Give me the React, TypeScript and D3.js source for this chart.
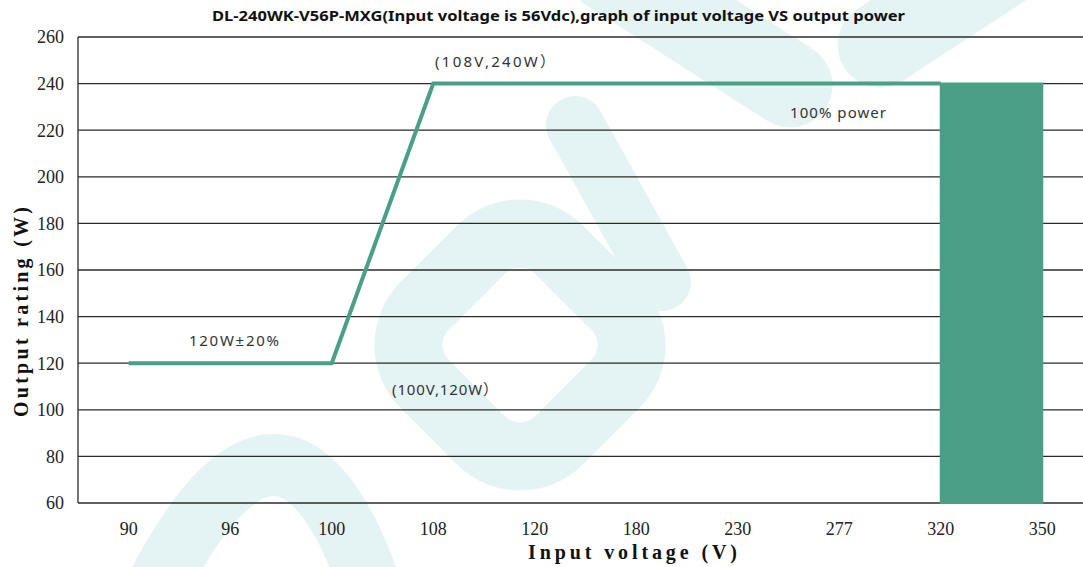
import React from "react";
import * as d3 from "d3";

const categories = ["90", "96", "100", "108", "120", "180", "230", "277", "320", "350"];
const lineValues = [120, 120, 120, 240, 240, 240, 240, 240, 240];
const lineCats = ["90", "96", "100", "108", "120", "180", "230", "277", "320"];
const areaCats = ["320", "350"];
const areaValues = [240, 240];
const yTicks = [60, 80, 100, 120, 140, 160, 180, 200, 220, 240, 260];

const W = 1083;
const H = 567;
const left = 78;
const top = 37;
const bottom = 503;
const GREEN = "#4a9f87";
const WM = "#e4f3f3";

export default function App() {
  const x = d3.scaleBand<string>().domain(categories).range([left, left + 1015]);
  const cx = (c: string) => (x(c) as number) + x.bandwidth() / 2;
  const y = d3.scaleLinear().domain([60, 260]).range([bottom, top]);

  const line = d3
    .line<number>()
    .x((_, i) => cx(lineCats[i]))
    .y((d) => y(d));
  const area = d3
    .area<number>()
    .x((_, i) => cx(areaCats[i]))
    .y0(y(60))
    .y1((d) => y(d));

  const serif = "'Liberation Serif', 'DejaVu Serif', serif";
  const sans = "'Noto Sans', 'Noto Sans CJK SC', sans-serif";

  return (
    <svg
      width={W}
      height={H}
      style={{ position: "absolute", left: 0, top: 0, background: "#fff" }}
    >
      {/* watermark */}
      <g fill="none" stroke={WM} strokeLinecap="round" strokeLinejoin="round">
        <path d="M150,600 Q285,330 375,600" strokeWidth={62} />
        <rect
          x={-95}
          y={-95}
          width={190}
          height={190}
          rx={55}
          strokeWidth={68}
          transform="translate(520,345) rotate(45)"
        />
        <path d="M575,125 L662,282" strokeWidth={58} />
        <path d="M610,-30 L790,85" strokeWidth={85} />
        <path d="M880,45 L1010,-40" strokeWidth={85} />
      </g>

      {/* gridlines */}
      <g>
        {yTicks.map((t) => (
          <line
            key={t}
            x1={left}
            x2={W}
            y1={y(t)}
            y2={y(t)}
            stroke="#2b2b2b"
            strokeWidth={1.3}
          />
        ))}
        <line x1={left} x2={left} y1={top} y2={bottom} stroke="#2b2b2b" strokeWidth={1.3} />
      </g>

      {/* area block */}
      <path d={area(areaValues) || ""} fill={GREEN} stroke={GREEN} strokeWidth={2} />
      {/* line */}
      <path
        d={line(lineValues) || ""}
        fill="none"
        stroke={GREEN}
        strokeWidth={4}
        strokeLinejoin="miter"
      />

      {/* y tick labels */}
      <g fontFamily={serif} fontSize={18} fill="#222">
        {yTicks.map((t) => (
          <text key={t} x={64} y={y(t)} dy="0.35em" textAnchor="end">
            {t}
          </text>
        ))}
      </g>
      {/* x tick labels */}
      <g fontFamily={serif} fontSize={18} fill="#222">
        {categories.map((c) => (
          <text key={c} x={cx(c)} y={535} textAnchor="middle">
            {c}
          </text>
        ))}
      </g>

      {/* axis titles */}
      <text
        x={528}
        y={559}
        fontFamily={serif}
        fontWeight="bold"
        fontSize={20}
        textLength={209}
        lengthAdjust="spacing"
        fill="#111"
      >
        Input voltage (V)
      </text>
      <text
        transform="translate(28,417) rotate(-90)"
        fontFamily={serif}
        fontWeight="bold"
        fontSize={20}
        textLength={210}
        lengthAdjust="spacing"
        fill="#111"
      >
        Output rating (W)
      </text>

      {/* title */}
      <text
        x={212}
        y={21}
        fontFamily={sans}
        fontWeight="bold"
        fontSize={14}
        textLength={693}
        lengthAdjust="spacingAndGlyphs"
        fill="#111"
      >
        DL-240WK-V56P-MXG(Input voltage is 56Vdc),graph of input voltage VS output power
      </text>

      {/* annotations */}
      <g fontFamily={sans} fontSize={15} fill="#333">
        <text x={435} y={67} textLength={120} lengthAdjust="spacing">
          (108V,240W）
        </text>
        <text x={790} y={118} textLength={96} lengthAdjust="spacing">
          100% power
        </text>
        <text x={189} y={346} textLength={90} lengthAdjust="spacing">
          120W±20%
        </text>
        <text x={392} y={395} textLength={106} lengthAdjust="spacing">
          (100V,120W）
        </text>
      </g>
    </svg>
  );
}
